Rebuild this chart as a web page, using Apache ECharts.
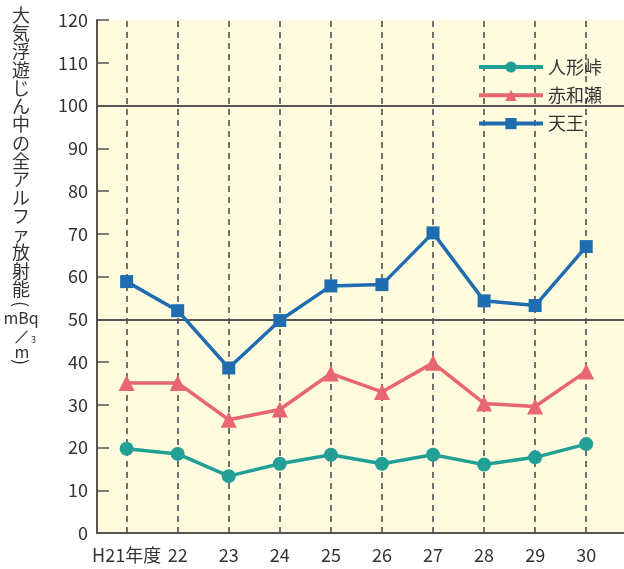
<!DOCTYPE html>
<html><head><meta charset="utf-8">
<script src="https://cdn.jsdelivr.net/npm/echarts@6/dist/echarts.min.js"></script>
<style>html,body{margin:0;padding:0;background:#fff}#c{width:624px;height:569px}</style>
</head><body><div id="c"></div>
<script>
const categories = ['H21年度','22','23','24','25','26','27','28','29','30'];
const ningyotoge = [19.7,18.5,13.3,16.2,18.3,16.2,18.3,16.0,17.7,20.8];
const akawase = [35.1,35.1,26.5,28.9,37.3,33.0,39.8,30.3,29.6,37.8];
const tenno = [58.8,52.0,38.6,49.7,57.8,58.1,70.2,54.3,53.2,67.0];
const seriesNames = ['人形峠','赤和瀬','天王'];
const yTicks = [0,10,20,30,40,50,60,70,80,90,100,110,120];
const refLines = [50,100];
const yTitleChars = '大気浮遊じん中の全アルファ放射能';
const yTitleUnit = ['(', 'mBq', '/', 'm', '3', ')'];

const idx = categories.map((_, i) => i);
const pairs = arr => arr.map((v, i) => [i, v]);
const font = '"Noto Sans CJK JP", "Noto Sans", sans-serif';

const txt = (text, x, y, size, rot) => ({
  type: 'text', x: x, y: y, rotation: rot || 0,
  style: { text: text, fontSize: size, fill: '#333', align: 'center', verticalAlign: 'middle', fontFamily: font }
});
const titleEls = Array.from(yTitleChars).map((ch, i) => txt(ch, 21, 15 + i * 18.27, 18));
titleEls.push(
  txt(yTitleUnit[0], 21, 304, 18, -Math.PI / 2),
  txt(yTitleUnit[1], 21, 318, 16),
  txt(yTitleUnit[2], 22, 336, 17, -0.45),
  txt(yTitleUnit[3], 22, 352, 16),
  txt(yTitleUnit[4], 33.5, 340, 9),
  txt(yTitleUnit[5], 21, 362, 18, -Math.PI / 2)
);

const chart = echarts.init(document.getElementById('c'));
chart.setOption({
  animation: false,
  textStyle: { fontFamily: font },
  grid: { left: 97, right: 0, top: 20, bottom: 36, show: true, backgroundColor: '#fffbdf', borderWidth: 0 },
  legend: {
    orient: 'vertical', left: 472, top: 52,
    itemWidth: 64, itemHeight: 14, itemGap: 8.3,
    lineStyle: { width: 4 },
    textStyle: { fontSize: 18, color: '#333', lineHeight: 20, fontFamily: font },
    data: seriesNames
  },
  xAxis: {
    type: 'value', min: -0.58, max: 9.74,
    axisLine: { show: true, onZero: false, lineStyle: { color: '#555', width: 2 } },
    axisTick: { show: false },
    splitLine: { show: false },
    axisLabel: {
      customValues: idx,
      formatter: v => categories[Math.round(v)],
      fontSize: 18, color: '#333', margin: 13, fontFamily: font
    }
  },
  yAxis: {
    type: 'value', min: 0, max: 120, interval: 10,
    axisLine: { show: true, onZero: false, lineStyle: { color: '#555', width: 2 } },
    axisTick: { show: true, inside: true, length: 12, lineStyle: { color: '#555', width: 1.5 } },
    splitLine: { show: false },
    axisLabel: { fontSize: 18, color: '#333', margin: 9, fontFamily: font,
      customValues: yTicks }
  },
  graphic: [{ type: 'group', x: 0, y: 0, children: titleEls }],
  series: [
    {
      name: seriesNames[0], type: 'line', data: pairs(ningyotoge),
      symbol: 'circle', symbolSize: 14,
      lineStyle: { color: '#22a096', width: 3.5 }, itemStyle: { color: '#22a096' },
      markLine: {
        silent: true, symbol: 'none', label: { show: false }, z: 1,
        data: idx.map(i => ({ xAxis: i, lineStyle: { color: '#444', width: 1.5, type: [6, 5] } }))
          .concat(refLines.map(v => ({ yAxis: v, lineStyle: { color: '#555', width: 2, type: 'solid' } })))
      }
    },
    {
      name: seriesNames[1], type: 'line', data: pairs(akawase),
      symbol: 'triangle', symbolSize: 16,
      lineStyle: { color: '#e8666f', width: 3.5 }, itemStyle: { color: '#e8666f' }
    },
    {
      name: seriesNames[2], type: 'line', data: pairs(tenno),
      symbol: 'rect', symbolSize: 13,
      lineStyle: { color: '#1f6db0', width: 3.5 }, itemStyle: { color: '#1f6db0' }
    }
  ]
});
</script></body></html>
